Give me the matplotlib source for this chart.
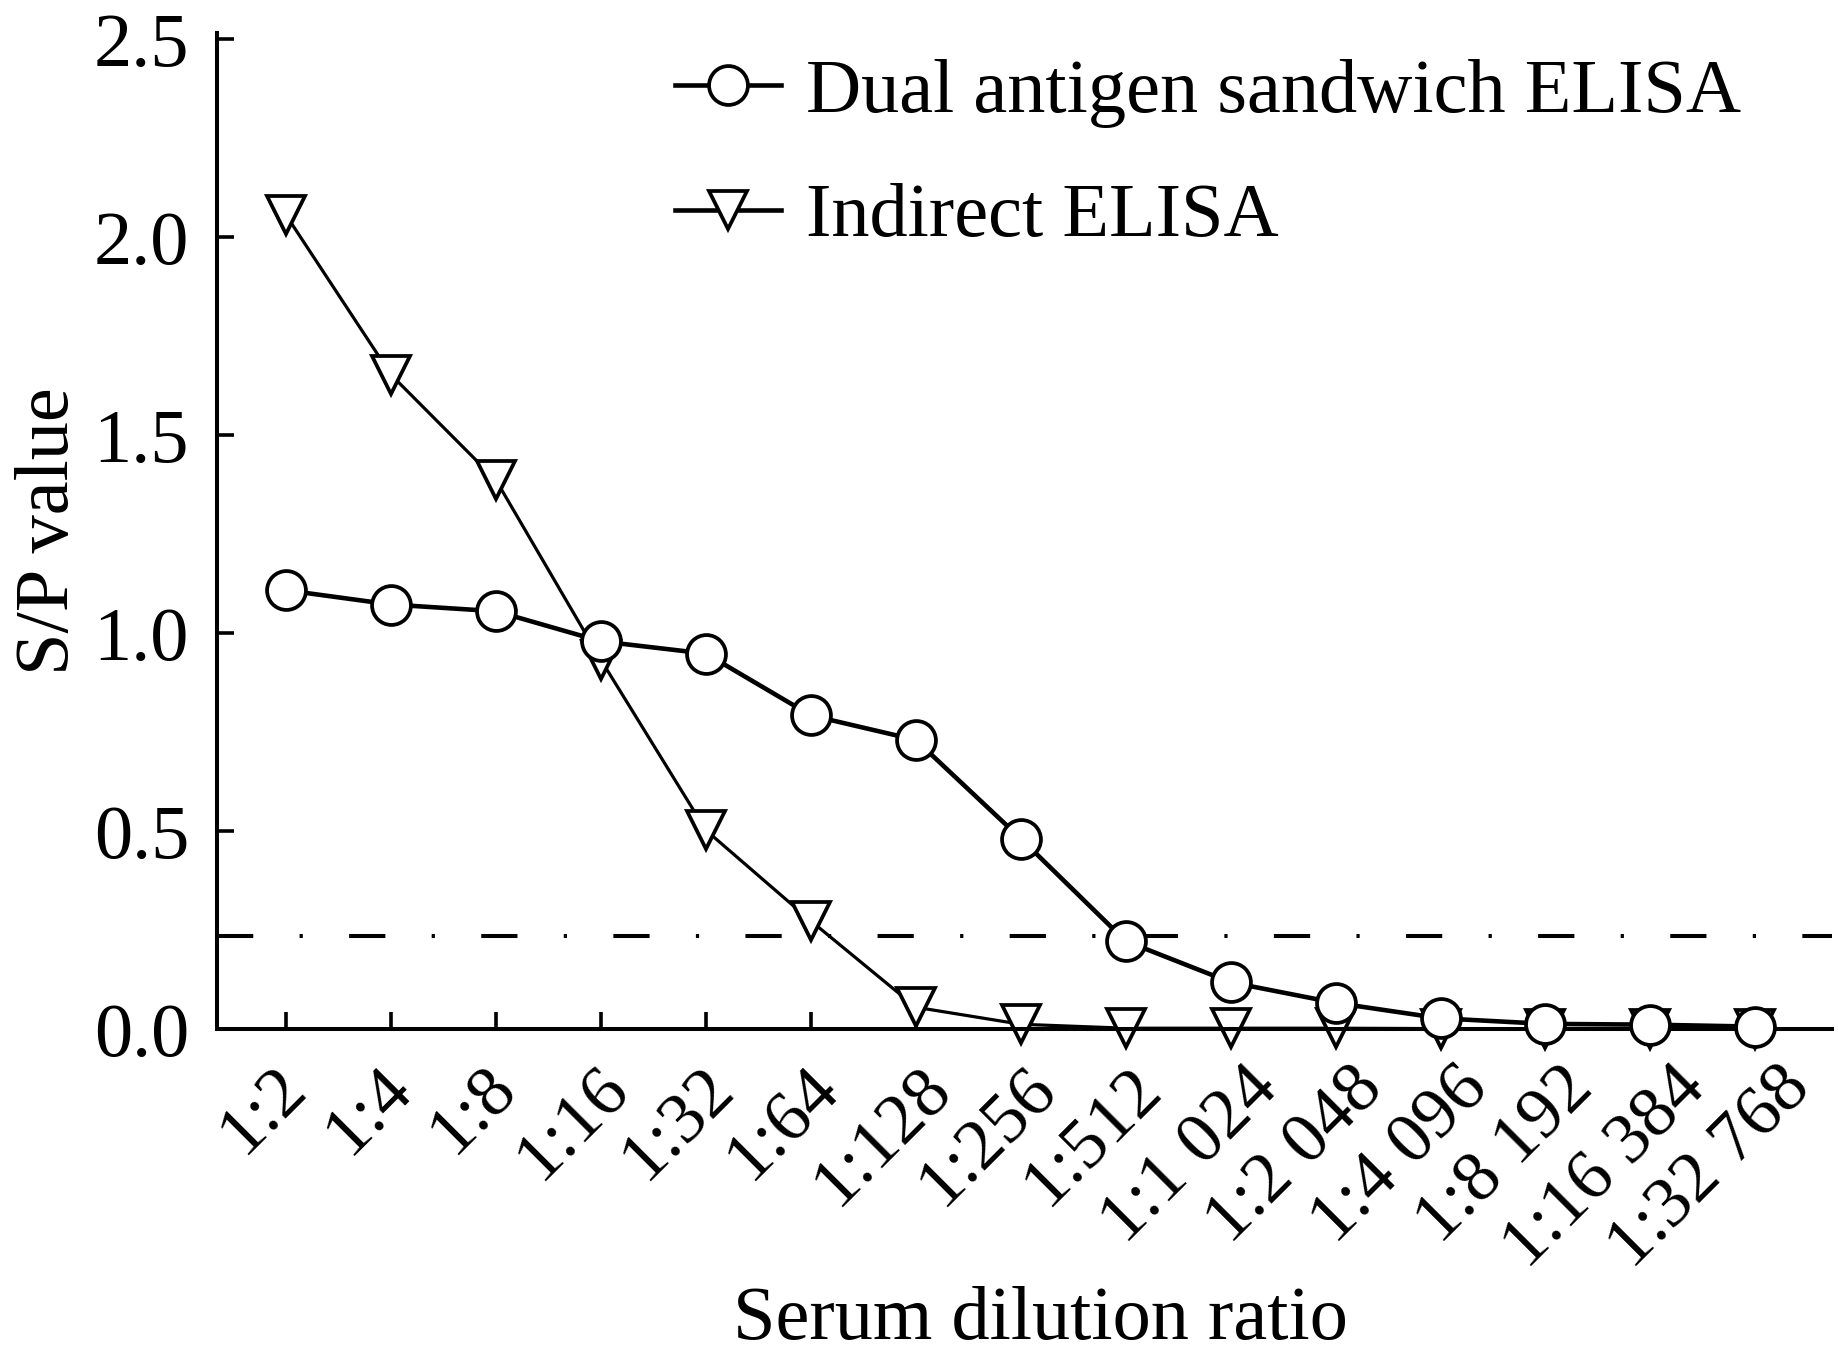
import matplotlib
matplotlib.use("Agg")
import matplotlib.pyplot as plt
from matplotlib.transforms import ScaledTranslation
import numpy as np

# --- data ---
dilutions = ["1:2", "1:4", "1:8", "1:16", "1:32", "1:64", "1:128", "1:256",
             "1:512", "1:1 024", "1:2 048", "1:4 096", "1:8 192",
             "1:16 384", "1:32 768"]
sandwich = [1.108, 1.072, 1.055, 0.979, 0.948, 0.792, 0.730, 0.481,
            0.222, 0.118, 0.066, 0.027, 0.013, 0.011, 0.006]
indirect = [2.055, 1.652, 1.386, 0.932, 0.502, 0.273, 0.055, 0.012,
            0.002, 0.002, 0.002, 0.001, 0.001, 0.001, 0.001]
cutoff = 0.236

plt.rcParams['font.family'] = ['Liberation Serif', 'DejaVu Serif']
fs = 55

fig = plt.figure(figsize=(18.38, 13.57), dpi=100)
ax = fig.add_axes([0.118, 0.2417, 0.8787, 0.7339])

x = np.arange(1, len(dilutions) + 1)

# indirect ELISA (thin line, down triangles)
ax.plot(x, indirect, color='k', lw=2.3, marker='v', ms=28,
        mfc='white', mec='k', mew=2.7, clip_on=False, zorder=2,
        label="Indirect ELISA")
# dual antigen sandwich (thicker line, circles)
ax.plot(x, sandwich, color='k', lw=3.3, marker='o', ms=28,
        mfc='white', mec='k', mew=2.7, clip_on=False, zorder=3,
        label="Dual antigen sandwich ELISA")

# cut-off line
ax.axhline(cutoff, color='k', lw=2.9, linestyle=(0, (9, 11.5, 0.8, 11.5)),
           zorder=1)

ax.set_xlim(1 - 0.66, len(dilutions) + 0.73)
ax.set_ylim(0, 2.515)
ax.set_yticks([0, 0.5, 1.0, 1.5, 2.0, 2.5])
ax.set_yticklabels(["0.0", "0.5", "1.0", "1.5", "2.0", "2.5"], fontsize=fs)
ax.set_xticks(x)
ax.set_xticklabels(dilutions, fontsize=52, rotation=45, ha='center',
                   va='top')

ax.spines['top'].set_visible(False)
ax.spines['right'].set_visible(False)
ax.spines['left'].set_linewidth(2.9)
ax.spines['bottom'].set_linewidth(2.9)
ax.tick_params(axis='both', direction='in', length=12, width=2.6)
ax.tick_params(axis='y', pad=20)
ax.tick_params(axis='x', pad=19)

ax.set_ylabel("S/P value", fontsize=fs, labelpad=7)
ax.set_xlabel("Serum dilution ratio", fontsize=fs, va='center')
ax.xaxis.set_label_coords(0.510, -0.293)

# legend: circle entry first
h, l = ax.get_legend_handles_labels()
leg = ax.legend(h[::-1], l[::-1], loc='upper left',
                bbox_to_anchor=(0.367, 0.957),
                bbox_transform=fig.transFigure, frameon=False, fontsize=fs,
                handlelength=1.4, handletextpad=0.32, labelspacing=0.72,
                borderpad=0, borderaxespad=0, numpoints=1)
for ln in leg.get_lines():
    ln.set_linewidth(3.3)

# the rotated labels sit with their tick at ~70 % of their width
fig.canvas.draw()
rend = fig.canvas.get_renderer()
for lab in ax.get_xticklabels():
    w = lab.get_window_extent(rend).width
    lab.set_transform(lab.get_transform() +
                      ScaledTranslation(-0.2 * w / fig.dpi, 0,
                                        fig.dpi_scale_trans))

fig.savefig("out.png", dpi=100)
